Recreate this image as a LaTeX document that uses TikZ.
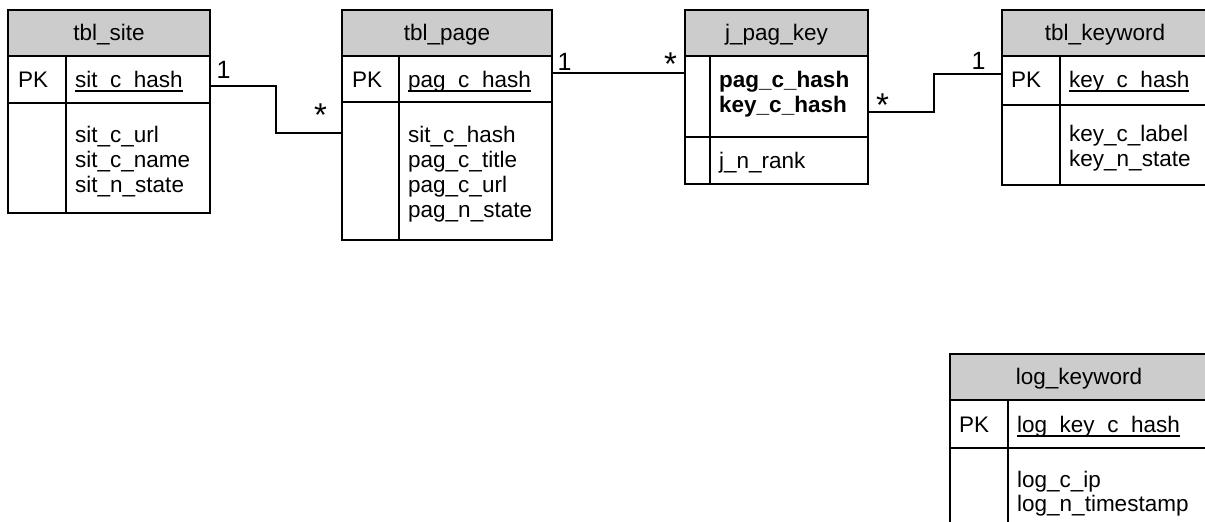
\documentclass[tikz,border=0pt]{standalone}
\usepackage{fontspec}
\setmainfont{Liberation Sans}
\definecolor{hdrgray}{RGB}{204,204,204}
\newcommand{\pkul}[1]{\setbox0\hbox{#1}\rlap{\rule[-0.2em]{\wd0}{0.07em}}\box0}
\begin{document}
\begin{tikzpicture}[x=1pt,y=-1pt,
  tline/.style={line width=1.6pt},
  tbox/.style={draw, tline, inner sep=0pt, outer sep=0pt, anchor=north west},
  hdr/.style={tbox, fill=hdrgray, text height=16.5pt, text depth=1.5pt},
  fld/.style={anchor=base west, inner sep=0pt},
  one/.style={anchor=base west, inner sep=0pt, font=\fontsize{25}{25}\selectfont},
  many/.style={anchor=base west, inner sep=0pt, font=\fontsize{33}{33}\selectfont},
  link/.style={line width=1.6pt},
  font=\fontsize{22.5}{25}\selectfont]
\useasboundingbox (0,0) rectangle (1205,522);

% ---------- tbl_site ----------
\node[hdr, minimum width=202pt, minimum height=46pt] (sitehdr) at (8,10) {tbl\_site};
\node[tbox, minimum width=202pt, minimum height=47pt] (sitepk) at (8,56) {};
\node[tbox, minimum width=202pt, minimum height=110pt] (sitebody) at (8,103) {};
\draw[tline] (66,56) -- (66,213);
\node[fld] (sitepkl) at (18,87) {PK};
\node[fld] (sitepkf) at (75,87) {\pkul{sit\_c\_hash}};
\node[fld] (sitef1) at (75,142) {sit\_c\_url};
\node[fld] (sitef2) at (75,167) {sit\_c\_name};
\node[fld] (sitef3) at (75,192) {sit\_n\_state};

% ---------- tbl_page ----------
\node[hdr, minimum width=210pt, minimum height=46pt] (pagehdr) at (342,10) {tbl\_page};
\node[tbox, minimum width=210pt, minimum height=46pt] (pagepk) at (342,56) {};
\node[tbox, minimum width=210pt, minimum height=138pt] (pagebody) at (342,102) {};
\draw[tline] (399,56) -- (399,240);
\node[fld] (pagepkl) at (352,87) {PK};
\node[fld] (pagepkf) at (408,87) {\pkul{pag\_c\_hash}};
\node[fld] (pagef1) at (408,142) {sit\_c\_hash};
\node[fld] (pagef2) at (408,167) {pag\_c\_title};
\node[fld] (pagef3) at (408,192) {pag\_c\_url};
\node[fld] (pagef4) at (408,217) {pag\_n\_state};

% ---------- j_pag_key ----------
\node[hdr, minimum width=183pt, minimum height=46pt] (jhdr) at (685,10) {j\_pag\_key};
\node[tbox, minimum width=183pt, minimum height=81pt] (jpk) at (685,56) {};
\node[tbox, minimum width=183pt, minimum height=47pt] (jbody) at (685,137) {};
\draw[tline] (710,56) -- (710,184);
\node[fld] (jpkf1) at (719,87) {\bfseries pag\_c\_hash};
\node[fld] (jpkf2) at (719,112) {\bfseries key\_c\_hash};
\node[fld] (jf1) at (719,168) {j\_n\_rank};

% ---------- tbl_keyword ----------
\node[hdr, minimum width=206pt, minimum height=46pt] (kwhdr) at (1002,10) {tbl\_keyword};
\node[tbox, minimum width=206pt, minimum height=49pt] (kwpk) at (1002,56) {};
\node[tbox, minimum width=206pt, minimum height=80pt] (kwbody) at (1002,105) {};
\draw[tline] (1060,56) -- (1060,185);
\node[fld] (kwpkl) at (1011,87) {PK};
\node[fld] (kwpkf) at (1069,87) {\pkul{key\_c\_hash}};
\node[fld] (kwf1) at (1069,141) {key\_c\_label};
\node[fld] (kwf2) at (1069,166) {key\_n\_state};

% ---------- log_keyword ----------
\node[hdr, minimum width=258pt, minimum height=46pt] (loghdr) at (950,354) {log\_keyword};
\node[tbox, minimum width=258pt, minimum height=48pt] (logpk) at (950,400) {};
\node[tbox, minimum width=258pt, minimum height=90pt] (logbody) at (950,448) {};
\draw[tline] (1008,400) -- (1008,540);
\node[fld] (logpkl) at (959,432) {PK};
\node[fld] (logpkf) at (1017,432) {\pkul{log\_key\_c\_hash}};
\node[fld] (logf1) at (1017,487) {log\_c\_ip};
\node[fld] (logf2) at (1017,511) {log\_n\_timestamp};

% ---------- connectors ----------
\coordinate (c1s) at (sitepk.east |- 0,86);
\coordinate (c1e) at (pagebody.west |- 0,133);
\draw[link] (c1s) -- (276,86) -- (276,133) -- (c1e);
\node[one] (m1a) at (216.3,78) {1};
\node[many] (m1b) at (314,126.5) {*};

\coordinate (c2s) at (pagepk.east |- 0,73);
\coordinate (c2e) at (jpk.west |- 0,73);
\draw[link] (c2s) -- (c2e);
\node[one] (m2a) at (557.3,70) {1};
\node[many] (m2b) at (664,75.5) {*};

\coordinate (c3s) at (jpk.east |- 0,112);
\coordinate (c3e) at (kwpk.west |- 0,74);
\draw[link] (c3s) -- (934,112) -- (934,74) -- (c3e);
\node[many] (m3a) at (876,116.5) {*};
\node[one] (m3b) at (971.3,69) {1};
\end{tikzpicture}
\end{document}
